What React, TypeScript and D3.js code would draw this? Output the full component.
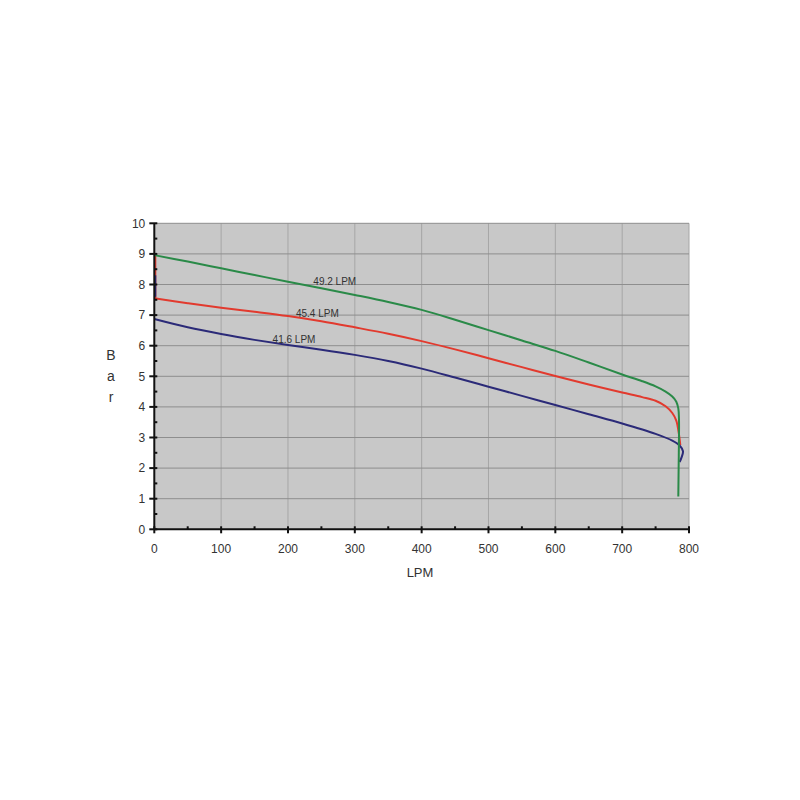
import React from "react";
import * as d3 from "d3";

type Pt = [number, number];

const xTicks: number[] = [0, 100, 200, 300, 400, 500, 600, 700, 800];
const yTicks: number[] = [0, 1, 2, 3, 4, 5, 6, 7, 8, 9, 10];

const greenSeries: Pt[] = [
  [0, 8.96], [50, 8.75], [100, 8.53], [150, 8.31], [200, 8.09], [250, 7.88], [300, 7.66],
  [350, 7.43], [400, 7.17], [450, 6.85], [500, 6.51], [550, 6.17], [600, 5.83], [650, 5.45],
  [700, 5.06], [730, 4.84], [750, 4.67], [765, 4.5], [775, 4.34], [781, 4.17], [784, 3.95],
  [785, 3.6], [785, 3.0], [784.5, 2.0], [784, 1.07],
];
const redSeries: Pt[] = [
  [0, 7.55], [50, 7.39], [100, 7.24], [150, 7.11], [200, 6.97], [250, 6.8], [300, 6.6],
  [350, 6.39], [400, 6.15], [450, 5.88], [500, 5.59], [550, 5.3], [600, 5.01], [650, 4.73],
  [700, 4.47], [730, 4.32], [750, 4.2], [765, 4.02], [775, 3.8], [781, 3.55], [785, 3.1], [787, 2.75],
];
const blueSeries: Pt[] = [
  [0, 6.87], [50, 6.6], [100, 6.38], [150, 6.19], [200, 6.02], [250, 5.87], [300, 5.7],
  [350, 5.5], [400, 5.25], [450, 4.96], [500, 4.66], [550, 4.36], [600, 4.06], [650, 3.76],
  [700, 3.46], [750, 3.12], [775, 2.9], [786, 2.74], [791, 2.55], [789, 2.36], [786, 2.2],
];
const redLead: Pt[] = [[1.5, 8.95], [1.5, 7.55]];
const blueLead: Pt[] = [[1.5, 8.3], [1.5, 7.6]];

const curveLabels: { text: string; x: number; y: number }[] = [
  { text: "49.2 LPM", x: 270, y: 8.11 },
  { text: "45.4 LPM", x: 244, y: 7.04 },
  { text: "41.6 LPM", x: 209, y: 6.19 },
];

const GREEN = "#2a8a48";
const RED = "#e23a2e";
const BLUE = "#2b2a78";

export default function App() {
  const x = d3.scaleLinear().domain([0, 800]).range([154.3, 689]);
  const y = d3.scaleLinear().domain([0, 10]).range([529.3, 223.3]);
  const smooth = d3.line<Pt>().x((d) => x(d[0])).y((d) => y(d[1])).curve(d3.curveCatmullRom.alpha(0.5));
  const straight = d3.line<Pt>().x((d) => x(d[0])).y((d) => y(d[1]));
  const font = "'Liberation Sans', Arial, sans-serif";
  const minorY = d3.range(0.5, 10, 1);
  const minorX = d3.range(50, 800, 100);

  return (
    <svg width={800} height={800} style={{ position: "absolute", left: 0, top: 0, background: "#fff" }}>
      <rect x={x(0)} y={y(10)} width={x(800) - x(0)} height={y(0) - y(10)} fill="#c8c8c8" />
      {xTicks.filter((t) => t > 0).map((t) => (
        <line key={"gx" + t} x1={x(t)} x2={x(t)} y1={y(10)} y2={y(0)} stroke="#a6a6a6" strokeWidth={1} />
      ))}
      {yTicks.filter((t) => t > 0).map((t) => (
        <line key={"gy" + t} x1={x(0)} x2={x(800)} y1={y(t)} y2={y(t)} stroke="#8e8e8e" strokeWidth={1} />
      ))}
      <path d={straight(redLead) || ""} fill="none" stroke={RED} strokeWidth={2} />
      <path d={straight(blueLead) || ""} fill="none" stroke={BLUE} strokeWidth={2} />
      <path d={smooth(redSeries) || ""} fill="none" stroke={RED} strokeWidth={2} />
      <path d={smooth(blueSeries) || ""} fill="none" stroke={BLUE} strokeWidth={2} />
      <path d={smooth(greenSeries) || ""} fill="none" stroke={GREEN} strokeWidth={2} />
      {curveLabels.map((l) => (
        <text key={l.text} x={x(l.x)} y={y(l.y)} dy="0.35em" textAnchor="middle" fontSize={10} fill="#333" fontFamily={font}>
          {l.text}
        </text>
      ))}
      <line x1={x(0)} x2={x(800)} y1={y(0)} y2={y(0)} stroke="#111" strokeWidth={2} />
      <line x1={x(0)} x2={x(0)} y1={y(0)} y2={y(10)} stroke="#111" strokeWidth={2} />
      {yTicks.map((t) => (
        <g key={"ty" + t}>
          <line x1={x(0) - 5} x2={x(0) + 3} y1={y(t)} y2={y(t)} stroke="#111" strokeWidth={2} />
          <text x={x(0) - 9} y={y(t)} dy="0.35em" textAnchor="end" fontSize={12} fill="#333" fontFamily={font}>
            {t}
          </text>
        </g>
      ))}
      {minorY.map((t) => (
        <line key={"my" + t} x1={x(0)} x2={x(0) + 3} y1={y(t)} y2={y(t)} stroke="#111" strokeWidth={2} />
      ))}
      {xTicks.map((t) => (
        <g key={"tx" + t}>
          <line x1={x(t)} x2={x(t)} y1={y(0) - 3} y2={y(0) + 4} stroke="#111" strokeWidth={2} />
          <text x={x(t)} y={y(0) + 19} dy="0.35em" textAnchor="middle" fontSize={12} fill="#333" fontFamily={font}>
            {t}
          </text>
        </g>
      ))}
      {minorX.map((t) => (
        <line key={"mx" + t} x1={x(t)} x2={x(t)} y1={y(0) - 3} y2={y(0)} stroke="#111" strokeWidth={2} />
      ))}
      <text x={420} y={572} dy="0.35em" textAnchor="middle" fontSize={13} fill="#333" fontFamily={font}>LPM</text>
      {["B", "a", "r"].map((c, i) => (
        <text key={c} x={111} y={355 + i * 21} dy="0.35em" textAnchor="middle" fontSize={14} fill="#333" fontFamily={font}>
          {c}
        </text>
      ))}
    </svg>
  );
}
